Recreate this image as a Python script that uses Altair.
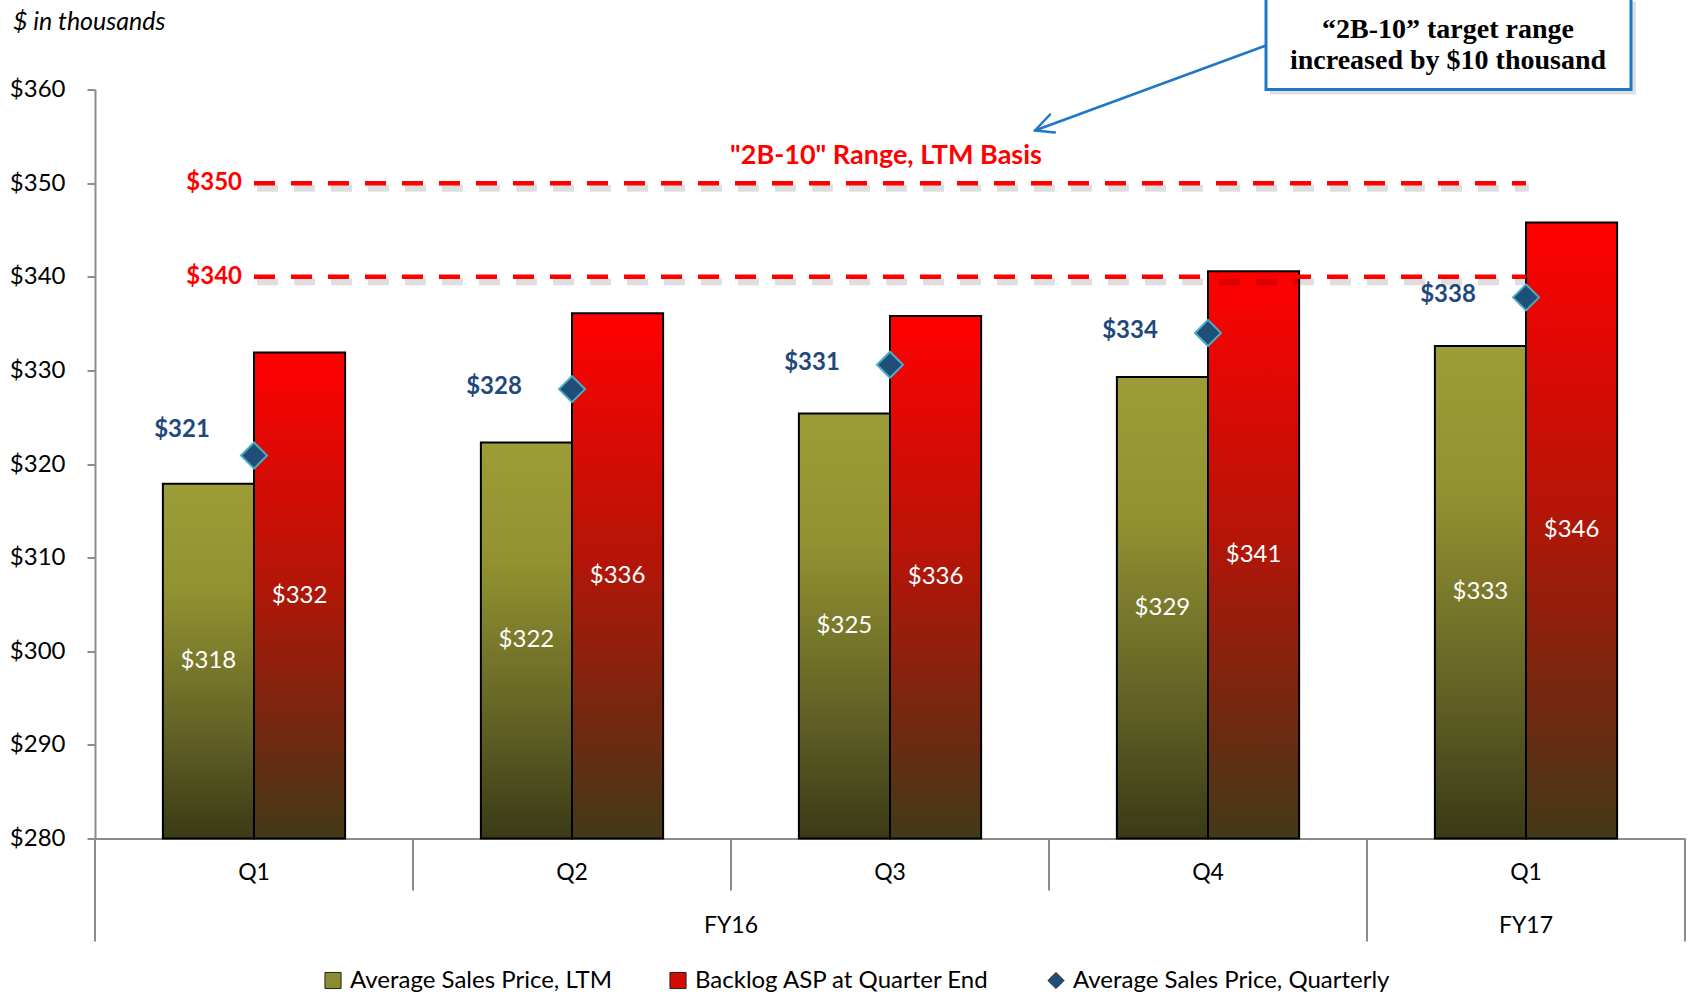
import altair as alt
import pandas as pd

# ---------------- data ----------------
quarters = ["Q1", "Q2", "Q3", "Q4", "Q1"]
fiscal_years = ["FY16", "FY16", "FY16", "FY16", "FY17"]
ltm_asp = [317.9, 322.3, 325.4, 329.3, 332.6]
backlog_asp = [331.9, 336.1, 335.8, 340.6, 345.8]
quarterly_asp = [320.9, 328.0, 330.6, 334.0, 337.8]
target_range = [340, 350]
series_names = [
    "Average Sales Price, LTM",
    "Backlog ASP at Quarter End",
    "Average Sales Price, Quarterly",
]
y_ticks = [280, 290, 300, 310, 320, 330, 340, 350, 360]
range_title = '"2B-10" Range, LTM Basis'
note_text = "\u201c2B-10\u201d target range\nincreased by $10 thousand"
unit_text = "$ in thousands"

# ---------------- tables ----------------
cats = [f"{fy} {q}" for fy, q in zip(fiscal_years, quarters)]
cat_df = pd.DataFrame({"cat": cats, "idx": range(len(cats)), "fy": fiscal_years})
bars_df = pd.DataFrame(
    {
        "cat": cats * 2,
        "idx": list(range(len(cats))) * 2,
        "series": [series_names[0]] * len(cats) + [series_names[1]] * len(cats),
        "value": ltm_asp + backlog_asp,
    }
)
q_df = pd.DataFrame(
    {"cat": cats, "idx": range(len(cats)), "series": series_names[2], "value": quarterly_asp}
)
target_lines_df = pd.DataFrame(
    [{"cat": c, "target": t} for t in target_range for c in cats]
)
target_lab_df = pd.DataFrame({"cat": [cats[0]] * len(target_range), "target": target_range})
one_df = pd.DataFrame({"title": [range_title], "note": [note_text], "unit": [unit_text]})

FONT = "Lato"
W, H = 1590, 749
YMIN, YMAX = y_ticks[0], y_ticks[-1]

yscale = alt.Scale(domain=[YMIN, YMAX], zero=False, nice=False)
x_axis = alt.Axis(
    title=None,
    ticks=False,
    domainColor="#8c8c8c",
    domainWidth=2,
    labelExpr="split(datum.label, ' ')[1]",
    labelFont=FONT,
    labelFontSize=23,
    labelColor="black",
    labelBaseline="middle",
    labelPadding=34,
    labelAngle=0,
)
y_axis = alt.Axis(
    title=None,
    values=y_ticks,
    grid=False,
    domainColor="#8c8c8c",
    domainWidth=2,
    tickColor="#8c8c8c",
    tickWidth=2,
    tickSize=8,
    labelExpr="'$' + datum.value",
    labelFont=FONT,
    labelFontSize=24,
    labelColor="black",
    labelPadding=22,
)
xscale = alt.Scale(domain=cats, paddingInner=0, paddingOuter=0)


def xenc(bp=None):
    if bp is None:
        return alt.X("cat:N", sort=cats, scale=xscale, axis=x_axis)
    return alt.X("cat:N", sort=cats, scale=xscale, axis=x_axis, bandPosition=bp)


def yenc(field):
    return alt.Y(field, scale=yscale, axis=y_axis)


xoff = alt.XOffset(
    "series:N",
    scale=alt.Scale(domain=series_names[:2], paddingInner=0, paddingOuter=0.745),
)

green_grad = {
    "gradient": "linear", "x1": 0, "y1": 0, "x2": 0, "y2": 1,
    "stops": [
        {"offset": 0, "color": "#9c9c38"},
        {"offset": 0.3, "color": "#929231"},
        {"offset": 0.7, "color": "#626226"},
        {"offset": 1, "color": "#3a3a16"},
    ],
}
red_grad = {
    "gradient": "linear", "x1": 0, "y1": 0, "x2": 0, "y2": 1,
    "stops": [
        {"offset": 0, "color": "#ff0000"},
        {"offset": 0.45, "color": "#b81408"},
        {"offset": 0.8, "color": "#6e2a10"},
        {"offset": 1, "color": "#423a18"},
    ],
}

base = alt.Chart(bars_df)
green_bars = base.transform_filter(alt.datum.series == series_names[0]).mark_bar(
    fill=green_grad, stroke="black", strokeWidth=2
).encode(x=xenc(), xOffset=xoff, y=yenc("value:Q"), y2=alt.datum(YMIN))
red_bars = base.transform_filter(alt.datum.series == series_names[1]).mark_bar(
    fill=red_grad, stroke="black", strokeWidth=2
).encode(x=xenc(), xOffset=xoff, y=yenc("value:Q"), y2=alt.datum(YMIN))

inner_labels = base.transform_calculate(
    mid=f"(datum.value + {YMIN}) / 2", label="'$' + format(datum.value, '.0f')"
).mark_text(color="white", font=FONT, fontSize=24, baseline="middle").encode(
    x=xenc(), xOffset=xoff, y=yenc("mid:Q"), text="label:N"
)

# target range dashed lines (+ soft shadow)
tl = alt.Chart(target_lines_df)
target_shadow = tl.mark_line(
    color="black", opacity=0.13, strokeWidth=7, strokeDash=[21, 16], xOffset=3, yOffset=5
).encode(x=xenc(), y=yenc("target:Q"), detail="target:N")
target_lines = tl.mark_line(
    color="#ff0000", strokeWidth=4.5, strokeDash=[21, 16]
).encode(x=xenc(), y=yenc("target:Q"), detail="target:N")
target_labels = alt.Chart(target_lab_df).transform_calculate(
    label="'$' + datum.target"
).mark_text(
    color="#ff0000", font=FONT, fontSize=24, fontWeight="bold", align="right",
    baseline="middle", dx=-12
).encode(x=xenc(), y=yenc("target:Q"), text="label:N")

# quarterly diamonds with legend
legend = alt.Legend(
    title=None, orient="none", legendX=226, legendY=879, direction="horizontal",
    labelFont=FONT, labelFontSize=24, labelColor="black", labelOffset=5, labelLimit=0,
    symbolSize=260, columnPadding=54, symbolStrokeColor="#222222", symbolStrokeWidth=1,
)
qc = alt.Chart(q_df)
diamonds = qc.mark_point(
    filled=True, stroke="#4bacc6", strokeWidth=2, size=680, opacity=1
).encode(
    x=xenc(),
    y=yenc("value:Q"),
    color=alt.Color(
        "series:N",
        scale=alt.Scale(domain=series_names, range=["#8b8b32", "#d40a04", "#1f4e79"]),
        legend=legend,
    ),
    shape=alt.Shape(
        "series:N",
        scale=alt.Scale(domain=series_names, range=["square", "square", "diamond"]),
        legend=legend,
    ),
)
q_text = dict(font=FONT, fontSize=24, fontWeight="bold", color="#1f497d", baseline="middle")
q_label_first = qc.transform_filter(alt.datum.idx == 0).transform_calculate(
    label="'$' + format(datum.value, '.0f')"
).mark_text(dx=-72, dy=-26, **q_text).encode(x=xenc(), y=yenc("value:Q"), text="label:N")
q_label_rest = qc.transform_filter(alt.datum.idx > 0).transform_calculate(
    label="'$' + format(datum.value, '.0f')"
).mark_text(dx=-78, dy=-2, **q_text).encode(x=xenc(), y=yenc("value:Q"), text="label:N")

# category separators (two-level axis)
cc = alt.Chart(cat_df)
short_sep = cc.transform_filter("datum.idx > 0 && datum.idx < 4").mark_rule(
    color="#8c8c8c", strokeWidth=2
).encode(x=xenc(0), y=alt.value(H), y2=alt.value(H + 52))
long_sep = cc.transform_filter("datum.idx == 0 || datum.idx == 4").mark_rule(
    color="#8c8c8c", strokeWidth=2
).encode(x=xenc(0), y=alt.value(H), y2=alt.value(H + 103))
end_sep = cc.transform_filter("datum.idx == 4").mark_rule(
    color="#8c8c8c", strokeWidth=2
).encode(x=xenc(1), y=alt.value(H), y2=alt.value(H + 103))
fy_text = dict(font=FONT, fontSize=23, color="black", baseline="middle")
fy16 = cc.transform_filter("datum.idx == 1").mark_text(**fy_text).encode(
    x=xenc(1), y=alt.value(H + 87), text="fy:N"
)
fy17 = cc.transform_filter("datum.idx == 4").mark_text(**fy_text).encode(
    x=xenc(0.5), y=alt.value(H + 87), text="fy:N"
)

# annotations
oc = alt.Chart(one_df)
unit_label = oc.mark_text(
    font=FONT, fontSize=25, fontStyle="italic", align="left", baseline="middle", color="black"
).encode(x=alt.value(-82), y=alt.value(-68), text="unit:N")
range_label = oc.mark_text(
    font=FONT, fontSize=27, fontWeight="bold", color="#ff0000", baseline="middle"
).encode(x=alt.value(791), y=alt.value(66), text="title:N")
box_shadow = oc.mark_rect(fill="black", opacity=0.12).encode(
    x=alt.value(1175), x2=alt.value(1541), y=alt.value(-88), y2=alt.value(5)
)
box = oc.mark_rect(fill="white", stroke="#1f77c8", strokeWidth=3).encode(
    x=alt.value(1171), x2=alt.value(1536), y=alt.value(-92), y2=alt.value(0)
)
box_text = oc.mark_text(
    font="Liberation Serif", fontSize=28, fontWeight="bold", color="black",
    lineBreak="\n", lineHeight=31, baseline="middle"
).encode(x=alt.value(1353), y=alt.value(-60), text="note:N")
arrow_style = dict(color="#1f77c8", strokeWidth=2.5, strokeCap="round")
arrow_line = oc.mark_rule(**arrow_style).encode(
    x=alt.value(1171), y=alt.value(-44), x2=alt.value(940), y2=alt.value(41)
)
arrow_w1 = oc.mark_rule(**arrow_style).encode(
    x=alt.value(940), y=alt.value(41), x2=alt.value(955), y2=alt.value(25)
)
arrow_w2 = oc.mark_rule(**arrow_style).encode(
    x=alt.value(940), y=alt.value(41), x2=alt.value(960), y2=alt.value(43)
)

chart = alt.layer(
    green_bars, red_bars, inner_labels,
    target_shadow, target_lines, target_labels,
    diamonds, q_label_first, q_label_rest,
    short_sep, long_sep, end_sep, fy16, fy17,
    unit_label, range_label, box_shadow, box, box_text, arrow_line, arrow_w1, arrow_w2,
).properties(
    width=W, height=H,
    autosize=alt.AutoSizeParams(type="none"),
    padding={"left": 95, "top": 89.5, "right": 5, "bottom": 155.5},
    background="white",
).configure_view(stroke=None)

chart.save("out.html", embed_options={"renderer": "svg", "actions": False})
